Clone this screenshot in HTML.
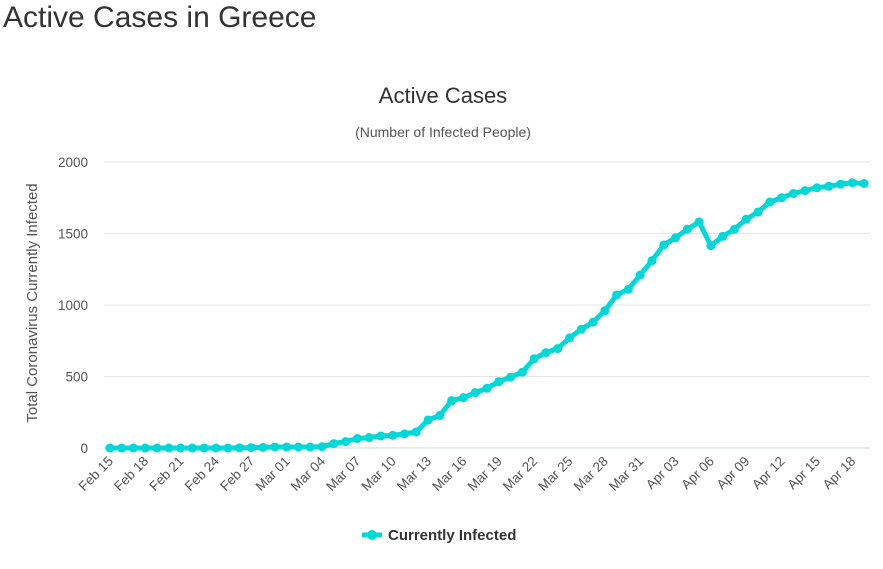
<!DOCTYPE html>
<html><head><meta charset="utf-8"><style>
body{margin:0;background:#fff;font-family:"Liberation Sans",sans-serif;}
#t{position:absolute;left:3px;top:1px;font-size:30px;color:#333;margin:0;font-weight:normal}
</style></head><body>
<h1 id="t">Active Cases in Greece</h1>
<svg id="c" width="883" height="569" style="position:absolute;left:0;top:0"></svg>
<script>
const startDate = [2020,2,15];
const values = [0,0,0,0,0,0,0,0,0,0,0,1,3,4,7,7,7,7,9,31,45,66,73,84,89,99,112,196,228,331,352,387,418,464,495,530,624,667,695,770,830,880,960,1070,1110,1210,1310,1420,1470,1530,1580,1415,1480,1530,1600,1650,1720,1750,1780,1800,1820,1830,1845,1855,1850];
const yTicks = [0,500,1000,1500,2000];
const months = ["Jan","Feb","Mar","Apr","May"];
const NS="http://www.w3.org/2000/svg";
const svg=document.getElementById('c');
const L=104,R=870,T=162,B=448;
const n=values.length, step=(R-L)/n;
const x=i=>L+step*(i+0.5);
const y=v=>B-(v/2000)*(B-T);
function mk(tag,a,txt){const e=document.createElementNS(NS,tag);for(const k in a)e.setAttribute(k,a[k]);if(txt!==undefined)e.textContent=txt;svg.appendChild(e);return e;}
let e;
e=mk('text',{x:443,y:103,'text-anchor':'middle','font-size':22,fill:'#333'},'Active Cases');


e=mk('text',{x:443,y:137,'text-anchor':'middle','font-size':14,fill:'#555'},'(Number of Infected People)');


e=mk('text',{transform:'translate(37,303) rotate(-90)','text-anchor':'middle','font-size':15,fill:'#555'},'Total Coronavirus Currently Infected');


yTicks.forEach(v=>{
 e=mk('line',{x1:L,x2:R,y1:y(v),y2:y(v),stroke:v===0?'#ccd6eb':'#e6e6e6','stroke-width':1});
 
 
 e=mk('text',{x:88,y:y(v)+5,'text-anchor':'end','font-size':13.5,fill:'#555'},String(v));
 
 
});
const d0=new Date(startDate[0],startDate[1]-1,startDate[2]);
for(let i=0;i<n;i+=3){
 const d=new Date(d0.getTime()+i*86400000+3600000*12);
 const lab=months[d.getMonth()]+' '+String(d.getDate()).padStart(2,'0');
 e=mk('text',{transform:`translate(${x(i)+4},${B+14}) rotate(-45)`,'text-anchor':'end','font-size':13.5,fill:'#555'},lab);
 
 
}
e=mk('polyline',{points:values.map((v,i)=>x(i)+','+y(v)).join(' '),fill:'none',stroke:'#00d8d8','stroke-width':5,'stroke-linejoin':'round'});


values.forEach((v,i)=>{
 e=mk('circle',{cx:x(i),cy:y(v),r:4.5,fill:'#00d8d8'});
 
 
});
e=mk('line',{x1:362,x2:382,y1:535,y2:535,stroke:'#00d8d8','stroke-width':5});


e=mk('circle',{cx:372,cy:535,r:5,fill:'#00d8d8'});


e=mk('text',{x:388,y:540,'font-size':15,'font-weight':'bold',fill:'#333'},'Currently Infected');


</script>
</body></html>
